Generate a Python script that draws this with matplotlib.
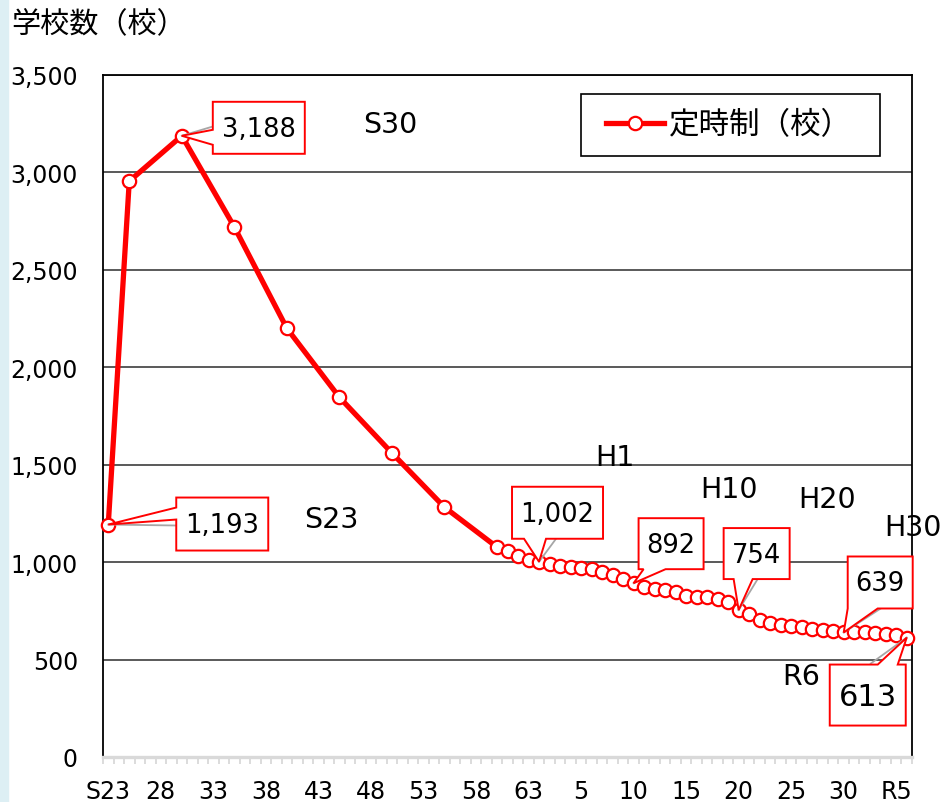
import matplotlib

matplotlib.use("Agg")
import matplotlib.pyplot as plt
from matplotlib.patches import Polygon, Rectangle
from matplotlib.transforms import Affine2D
from matplotlib.ticker import FuncFormatter, MultipleLocator

# ---- data -------------------------------------------------------------
first_year = 1948
years = [1948, 1950, 1955, 1960, 1965, 1970, 1975, 1980,
         1985, 1986, 1987, 1988, 1989, 1990, 1991, 1992, 1993, 1994,
         1995, 1996, 1997, 1998, 1999, 2000, 2001, 2002, 2003, 2004,
         2005, 2006, 2007, 2008, 2009, 2010, 2011, 2012, 2013, 2014,
         2015, 2016, 2017, 2018, 2019, 2020, 2021, 2022, 2023, 2024]
counts = [1193, 2955, 3188, 2720, 2200, 1846, 1560, 1282,
          1077, 1055, 1032, 1012, 1002, 988, 980, 973, 969, 963,
          948, 932, 915, 892, 875, 860, 855, 849, 828, 819,
          823, 813, 798, 754, 736, 705, 688, 677, 671, 665,
          657, 651, 648, 639, 641, 642, 637, 632, 626, 613]
n_categories = 77  # 1948 .. 2024
tick_labels = ["S23", "28", "33", "38", "43", "48", "53", "58", "63",
               "5", "10", "15", "20", "25", "30", "R5"]
label_years = [1948, 1955, 1989, 1998, 2008, 2018, 2024]
series_name = "定時制（校）"
y_title = "学校数（校）"
era_names = ["S30", "S23", "H1", "H10", "H20", "H30", "R6"]

# ---- layout (pixels) --------------------------------------------------
# callout shape per labelled year: pointer side, box (l, r, b, t) and
# pointer base, all as pixel offsets from the point; leader end; font size
callout_shapes = {
    1948: ("left", (68, 160, -26, 27), (5, 17), (70, -1), 18.5),
    1955: ("left", (31, 123, -18, 34), (-9, 6), (30, 9), 18.5),
    1989: ("bottom", (-27, 64, 23, 75), (-15, 7), (17, 23), 18.5),
    1998: ("bottom", (5, 70, 14, 65), (10, 32), (27, 14), 18.5),
    2008: ("bottom", (-15, 51, 31, 82), (-5, 14), (19, 31), 18.5),
    2018: ("bottom", (4, 69, 24, 76), (4, 34), (37, 24), 18.5),
    2024: ("top", (-77, -1, -88, -27), (-29, -9), (-36, -26), 22),
}
era_pos = [(390, 125), (331, 520), (615, 458), (729, 490), (827, 500),
           (913, 528), (801, 677)]

W, H = 948, 803
JP = ["Noto Sans CJK JP", "DejaVu Sans"]
plt.rcParams["font.family"] = ["DejaVu Sans", "Noto Sans CJK JP"]


def fx(px):
    return px / W


def fy(py):
    return 1 - py / H


def callout_verts(side, box, base):
    l, r, b, t = box
    if side == "left":
        return [(l, t), (r, t), (r, b), (l, b), (l, base[0]), (0, 0), (l, base[1])]
    if side == "bottom":
        return [(l, t), (r, t), (r, b), (base[1], b), (0, 0), (base[0], b), (l, b)]
    return [(l, t), (base[0], t), (0, 0), (base[1], t), (r, t), (r, b), (l, b)]


def main() -> None:
    fig = plt.figure(figsize=(W / 100, H / 100), dpi=100)
    fig.patches.append(Rectangle((0, 0), fx(8), 1, transform=fig.transFigure,
                                 color="#DDEFF4", zorder=0))
    ax = fig.add_axes([fx(103), fy(758), fx(912) - fx(103), fy(76) - fy(758)])

    x = [y - first_year for y in years]
    ax.plot(x, counts, "-o", color="#FF0000", lw=3.8, ms=9.6,
            mfc="white", mec="#FF0000", mew=1.6, label=series_name,
            clip_on=False, zorder=3)

    ax.set_xlim(-0.5, n_categories - 0.5)
    ax.set_ylim(0, 3500)
    ax.yaxis.set_major_locator(MultipleLocator(500))
    ax.yaxis.set_major_formatter(FuncFormatter(lambda v, p: f"{int(v):,}"))
    ax.set_xticks(range(0, n_categories, 5))
    ax.set_xticklabels(tick_labels)
    ax.set_xticks([i - 0.5 for i in range(n_categories + 1)], minor=True)
    ax.tick_params(axis="x", which="major", length=0, pad=16, labelsize=17)
    ax.tick_params(axis="x", which="minor", length=5, width=1.3,
                   color="#D9D9D9", direction="out")
    ax.tick_params(axis="y", length=0, pad=18, labelsize=17)

    ax.grid(axis="y", color="#595959", lw=1.4)
    ax.set_axisbelow(True)
    for side in ("left", "top", "right"):
        ax.spines[side].set_color("black")
        ax.spines[side].set_linewidth(1.3)
    ax.spines["bottom"].set_color("#D9D9D9")
    ax.spines["bottom"].set_linewidth(2.4)
    ax.spines["bottom"].set_zorder(2.5)

    # callouts
    for yr in label_years:
        side, box, base, lead, fs = callout_shapes[yr]
        xi = yr - first_year
        yv = counts[years.index(yr)]
        px, py = ax.transData.transform((xi, yv))
        shift = Affine2D().translate(px, py)
        ax.plot([0, lead[0]], [0, lead[1]], color="#A6A6A6", lw=1.3,
                transform=shift, clip_on=False, zorder=4)
        poly = Polygon(callout_verts(side, box, base), closed=True, fc="white",
                       ec="#FF0000", lw=1.4, transform=shift, clip_on=False,
                       zorder=5, joinstyle="miter")
        ax.add_artist(poly)
        l, r, b, t = box
        ax.text((l + r) / 2, (b + t) / 2 - 1, f"{yv:,}", transform=shift,
                ha="center", va="center", fontsize=fs, zorder=6)

    for name, (px, py) in zip(era_names, era_pos):
        fig.text(fx(px), fy(py), name, ha="center", va="center", fontsize=20.5)

    fig.text(fx(11), fy(25), y_title, ha="left", va="center", fontsize=21,
             family=JP)

    # legend: frame drawn separately, inside the axes so it sits under the legend
    ax.add_artist(Rectangle((fx(581), fy(157)), fx(880) - fx(581),
                            fy(95) - fy(157), transform=fig.transFigure,
                            fc="white", ec="black", lw=1.2, zorder=7,
                            clip_on=False))
    leg = ax.legend(loc="center left",
                    bbox_to_anchor=((606 - 103) / 809, (758 - 126) / 682),
                    borderaxespad=0, borderpad=0, frameon=False,
                    prop={"family": JP, "size": 22}, handlelength=1.9,
                    handletextpad=0.15)
    leg.set_zorder(8)

    fig.savefig("out.png", dpi=100)
    plt.close(fig)


if __name__ == "__main__":
    main()
